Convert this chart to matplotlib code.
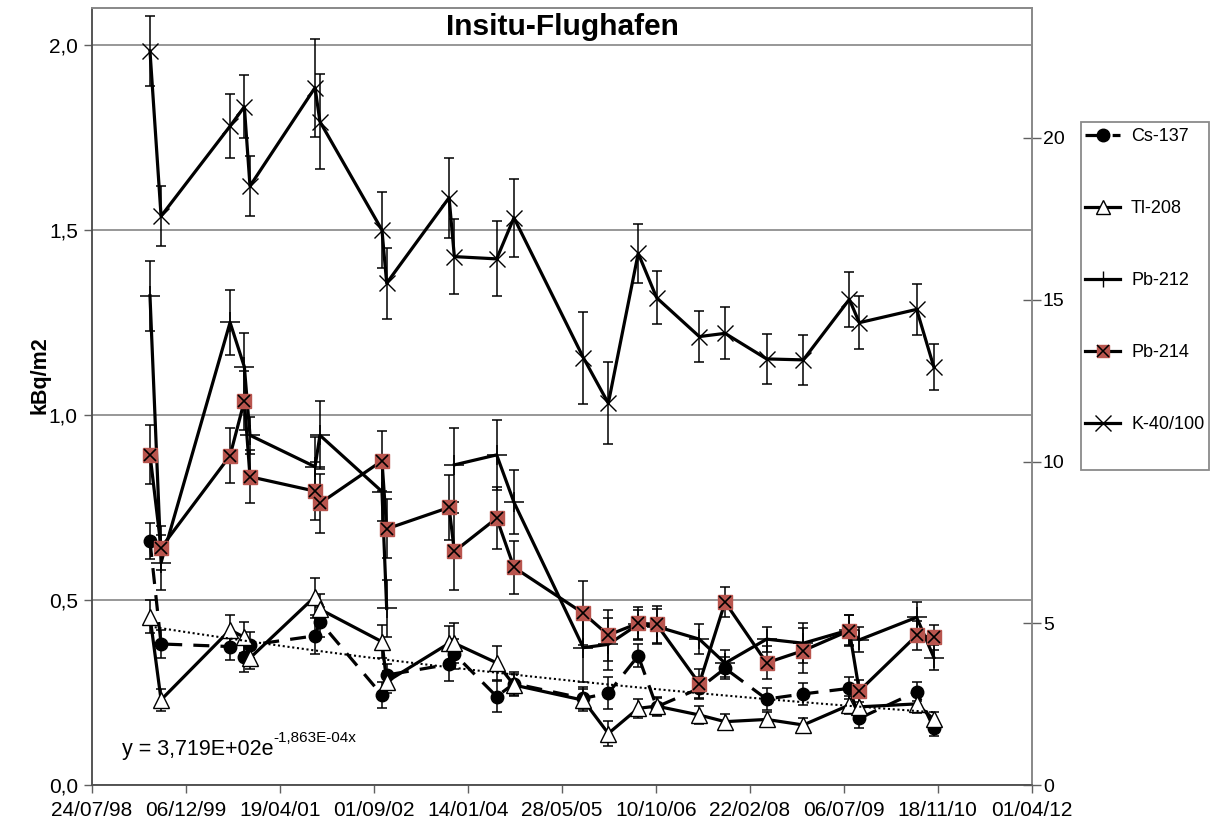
import numpy as np
import matplotlib
matplotlib.use("Agg")
import matplotlib.pyplot as plt
import matplotlib.dates as mdates
from matplotlib.lines import Line2D
from matplotlib.patches import Rectangle
from matplotlib.ticker import FuncFormatter, FixedLocator
from datetime import datetime

plt.rcParams['font.family'] = ['Liberation Sans', 'DejaVu Sans']

# ---------------- data ----------------
dates = ["1999-05-30", "1999-07-28", "2000-07-29", "2000-10-13", "2000-11-12",
         "2001-10-24", "2001-11-19", "2002-10-15", "2002-11-09", "2003-10-07",
         "2003-11-04", "2004-06-16", "2004-09-16", "2005-09-20", "2006-01-31",
         "2006-07-09", "2006-10-15", "2007-05-30", "2007-10-14", "2008-05-22",
         "2008-12-03", "2009-08-05", "2009-09-27", "2010-07-29", "2010-10-29"]

cs137 = [0.660, 0.382, 0.375, 0.346, 0.379, 0.404, 0.442, 0.244, 0.298, 0.327,
         0.355, 0.240, 0.275, 0.235, 0.249, 0.350, 0.212, 0.262, 0.316, 0.233,
         0.247, 0.262, 0.181, 0.253, 0.154]
cs137_err = [0.048, 0.038, 0.036, 0.039, 0.035, 0.048, 0.040, 0.036, 0.030, 0.045,
             0.040, 0.043, 0.030, 0.030, 0.043, 0.031, 0.025, 0.030, 0.030, 0.030,
             0.030, 0.030, 0.025, 0.025, 0.020]

tl208 = [0.456, 0.231, 0.420, 0.400, 0.344, 0.510, 0.476, 0.388, 0.280, 0.384,
         0.384, 0.331, 0.271, 0.230, 0.140, 0.208, 0.214, 0.190, 0.172, 0.178,
         0.163, 0.217, 0.212, 0.220, 0.178]
tl208_err = [0.045, 0.030, 0.039, 0.042, 0.030, 0.050, 0.040, 0.045, 0.030, 0.047,
             0.054, 0.046, 0.030, 0.030, 0.033, 0.025, 0.025, 0.025, 0.020, 0.020,
             0.020, 0.025, 0.025, 0.025, 0.020]

pb212 = [1.323, 0.602, 1.251, 1.131, 0.946, 0.861, 0.946, 0.794, 0.478, np.nan,
         0.866, 0.893, 0.765, 0.372, 0.381, 0.435, 0.429, 0.395, 0.330, 0.395,
         0.384, 0.420, 0.393, 0.454, 0.345]
pb212_err = [0.095, 0.074, 0.088, 0.092, 0.050, 0.080, 0.092, 0.080, 0.078, np.nan,
             0.100, 0.095, 0.087, 0.092, 0.070, 0.040, 0.047, 0.041, 0.037, 0.034,
             0.054, 0.040, 0.034, 0.041, 0.033]

pb214 = [0.894, 0.642, 0.891, 1.039, 0.834, 0.795, 0.762, 0.877, 0.693, 0.751,
         0.632, 0.722, 0.589, 0.465, 0.406, 0.438, 0.435, 0.275, 0.495, 0.331,
         0.364, 0.418, 0.255, 0.405, 0.400]
pb214_err = [0.079, 0.060, 0.075, 0.080, 0.072, 0.078, 0.079, 0.081, 0.080, 0.088,
             0.105, 0.083, 0.072, 0.086, 0.069, 0.045, 0.050, 0.040, 0.040, 0.045,
             0.060, 0.042, 0.030, 0.040, 0.034]

k40_100 = [22.68, 17.58, 20.36, 20.96, 18.51, 21.55, 20.50, 17.15, 15.51, 18.15,
           16.33, 16.26, 17.53, 13.21, 11.80, 16.43, 15.06, 13.86, 13.96, 13.17,
           13.14, 15.01, 14.29, 14.70, 12.91]
k40_err = [1.08, 0.92, 0.98, 0.98, 0.94, 1.51, 1.46, 1.17, 1.10, 1.24,
           1.16, 1.16, 1.20, 1.42, 1.27, 0.90, 0.82, 0.78, 0.80, 0.76,
           0.77, 0.85, 0.82, 0.79, 0.71]

# exponential trendline shown in the chart (x = Excel date serial)
trend_a = 3.719e2
trend_b = -1.863e-4
trend_label = "y = 3,719E+02e"
trend_label_exp = "-1,863E-04x"

x_start = "1998-07-24"
x_end = "2012-04-01"
x_step_days = 500

left_ticks = [0.0, 0.5, 1.0, 1.5, 2.0]
right_ticks = [0, 5, 10, 15, 20]

title = "Insitu-Flughafen"
ylabel = "kBq/m2"
names = ["Cs-137", "Tl-208", "Pb-212", "Pb-214", "K-40/100"]

# ---------------- figure ----------------
W, H = 1221, 830
fig = plt.figure(figsize=(W / 100, H / 100), dpi=100)
L, R, B, T = 91.7, 1031.7, 785.3, 8.3
ax = fig.add_axes([L / W, 1 - B / H, (R - L) / W, (B - T) / H])
ax2 = ax.twinx()

x = mdates.date2num([datetime.strptime(d, "%Y-%m-%d") for d in dates])
x0 = mdates.date2num(datetime.strptime(x_start, "%Y-%m-%d"))
x1 = mdates.date2num(datetime.strptime(x_end, "%Y-%m-%d"))

ax.set_xlim(x0, x1)
ax.set_ylim(0, 2.1)
ax2.set_ylim(0, 24)

lw = 2.3
ekw = dict(fmt='none', ecolor='black', elinewidth=1.1, capsize=3.5, capthick=1.1)
red = '#b9554e'
dash = (0, (5, 3.5))

# error bars
ax.errorbar(x, cs137, yerr=cs137_err, **ekw, zorder=2)
ax.errorbar(x, tl208, yerr=tl208_err, **ekw, zorder=2)
ax.errorbar(x, pb212, yerr=pb212_err, **ekw, zorder=2)
ax.errorbar(x, pb214, yerr=pb214_err, **ekw, zorder=2)
ax2.errorbar(x, k40_100, yerr=k40_err, **ekw, zorder=2)

# series
ax.plot(x, cs137, color='black', lw=lw, ls=dash, marker='o', ms=9,
        mfc='black', mec='black', zorder=3)
ax.plot(x, tl208, color='black', lw=lw, marker='^', ms=11, mfc='white',
        mec='black', mew=1.0, zorder=3)
ax.plot(x, pb212, color='black', lw=lw, marker='+', ms=14, mew=1.1, zorder=3)
ax.plot(x, pb214, color='black', lw=lw, marker='s', ms=10, mfc=red, mec=red, zorder=4)
ax.plot(x, pb214, ls='none', marker='x', ms=9, mec='black', mew=1.2, zorder=5)
ax2.plot(x, k40_100, color='black', lw=lw, marker='x', ms=12, mfc='white',
         mec='black', mew=1.0, zorder=3)

# trendline
excel_epoch = mdates.date2num(datetime(1899, 12, 30))
xt = np.linspace(x[0], x[-1], 200)
yt = trend_a * np.exp(trend_b * (xt - excel_epoch))
ax.plot(xt, yt, color='black', lw=1.5, ls=(0, (1, 1.3)), zorder=3)

# axes styling
ticks = np.arange(x0, x1 + 1, x_step_days)
ax.xaxis.set_major_locator(FixedLocator(ticks))
ax.xaxis.set_major_formatter(mdates.DateFormatter('%d/%m/%y'))
ax.set_yticks(left_ticks)
ax.yaxis.set_major_formatter(FuncFormatter(lambda v, p: f"{v:.1f}".replace('.', ',')))
ax2.set_yticks(right_ticks)

ax.yaxis.grid(True, color='#7a7a7a', lw=1.1)
ax.set_axisbelow(True)
ax.tick_params(axis='x', direction='out', length=6, width=1, labelsize=15, pad=5, color='#606060')
ax.tick_params(axis='y', direction='out', length=6, width=1, labelsize=15, pad=4, color='#606060')
ax2.tick_params(axis='y', direction='inout', length=13, width=1, labelsize=14, pad=1.5, color='#606060')

for a in (ax, ax2):
    for s in ['top', 'right']:
        a.spines[s].set_color('#8a8a8a')
        a.spines[s].set_linewidth(1.3)
    for s in ['left', 'bottom']:
        a.spines[s].set_color('#505050')
        a.spines[s].set_linewidth(1.1)

# texts
fig.text(562 / W, 1 - 27 / H, title, ha='center', va='center', fontsize=21.5, fontweight='bold')
fig.text(40 / W, 1 - 375 / H, ylabel, rotation=90, ha='center', va='center',
         fontsize=15.5, fontweight='bold')
t = fig.text(121.7 / W, 1 - 755 / H, trend_label, ha='left', va='baseline', fontsize=15.5)
ax.annotate(trend_label_exp, xy=(1.0, 0.72), xycoords=t, ha='left', va='bottom', fontsize=11)

# legend
h_cs = Line2D([], [], color='black', lw=lw, ls=dash, marker='o', ms=9, mfc='black')
h_tl = Line2D([], [], color='black', lw=lw, marker='^', ms=10, mfc='white', mec='black')
h_p2 = Line2D([], [], color='black', lw=lw, marker='+', ms=12, mew=1.0)
h_p4a = Line2D([], [], color='black', lw=lw, marker='s', ms=9, mfc=red, mec=red)
h_p4b = Line2D([], [], ls='none', marker='x', ms=8, mec='black', mew=1.1)
h_k = Line2D([], [], color='black', lw=lw, marker='x', ms=11, mec='black', mew=1.0)
fig.patches.append(Rectangle((1081 / W, 1 - 470 / H), 128 / W, (470 - 121.7) / H,
                             transform=fig.transFigure, facecolor='white',
                             edgecolor='#8a8a8a', lw=1.3, zorder=1))
leg = fig.legend([h_cs, h_tl, h_p2, (h_p4a, h_p4b), h_k], names,
                 loc='upper left', bbox_to_anchor=(1085 / W, 1 - 128 / H),
                 fontsize=13, frameon=False,
                 labelspacing=3.05, handlelength=1.95, handletextpad=0.6,
                 borderpad=0.0, borderaxespad=0.0)
leg.set_zorder(5)

fig.savefig('out.png', dpi=100)
